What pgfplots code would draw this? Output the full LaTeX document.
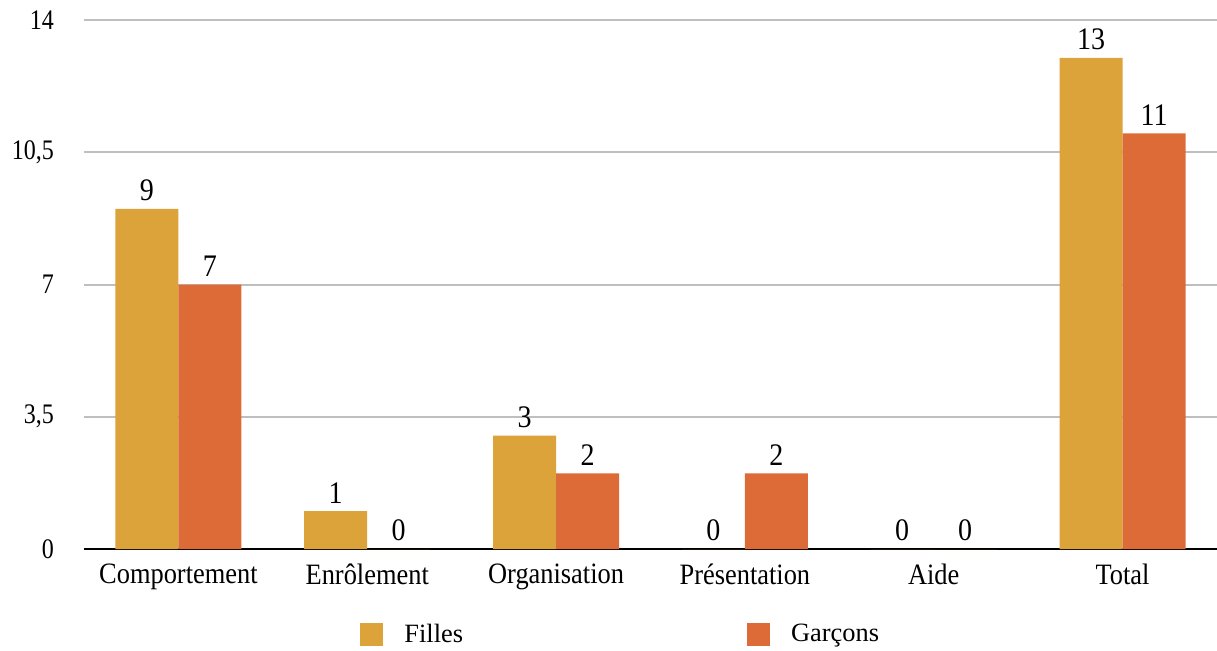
\documentclass[border=0pt]{standalone}
\usepackage{fontspec}
\setmainfont{Liberation Serif}
\usepackage{pgfplots}
\pgfplotsset{compat=1.18}
\definecolor{filles}{HTML}{DBA33A}
\definecolor{garcons}{HTML}{DC6B37}
\definecolor{gridc}{HTML}{BFBFBF}
\begin{document}
\begin{tikzpicture}
\begin{axis}[
  at={(42pt,50.5pt)}, anchor=south west,
  scale only axis, width=566.5pt, height=264.5pt,
  ybar=0pt, bar width=31.5pt,
  xmin=-0.5, xmax=5.5, ymin=0, ymax=14,
  xtick=data,
  xticklabels={Comportement,Enrôlement,Organisation,Présentation,Aide,Total},
  ytick={0,3.5,7,10.5,14},
  /pgf/number format/use comma,
  /pgf/number format/assume math mode=true,
  major tick length=0pt,
  axis line style={draw=none},
  ymajorgrids, grid style={gridc, line width=1pt},
  extra y ticks={0}, extra y tick labels={},
  extra y tick style={grid style={black, line width=1.2pt}},
  xticklabel style={font=\fontsize{13.2}{15}\selectfont, yscale=1.12, yshift=-3pt},
  yticklabel style={font=\fontsize{12}{14}\selectfont, yscale=1.18, xshift=-11.5pt},
  nodes near coords,
  every node near coord/.append style={font=\fontsize{14}{16}\selectfont, yscale=1.12, black},
  clip=false,
  legend columns=2,
  legend style={draw=none, at={(0.2436,-0.162)}, anchor=west, inner sep=0pt,
    font=\fontsize{13.2}{15}\selectfont,
    /tikz/every even column/.append style={column sep=140pt},
    /tikz/every odd column/.append style={column sep=8.5pt}},
  legend image code/.code={\fill[#1] (0pt,-5.75pt) rectangle (11.5pt,5.75pt);},
]
\addplot[fill=filles, draw=none] coordinates {(0,9) (1,1) (2,3) (3,0) (4,0) (5,13)};
\addplot[fill=garcons, draw=none] coordinates {(0,7) (1,0) (2,2) (3,2) (4,0) (5,11)};
\legend{Filles, Garçons}
\end{axis}
\pgfresetboundingbox
\path (0,0) rectangle (608.5pt,325pt);
\end{tikzpicture}
\end{document}
